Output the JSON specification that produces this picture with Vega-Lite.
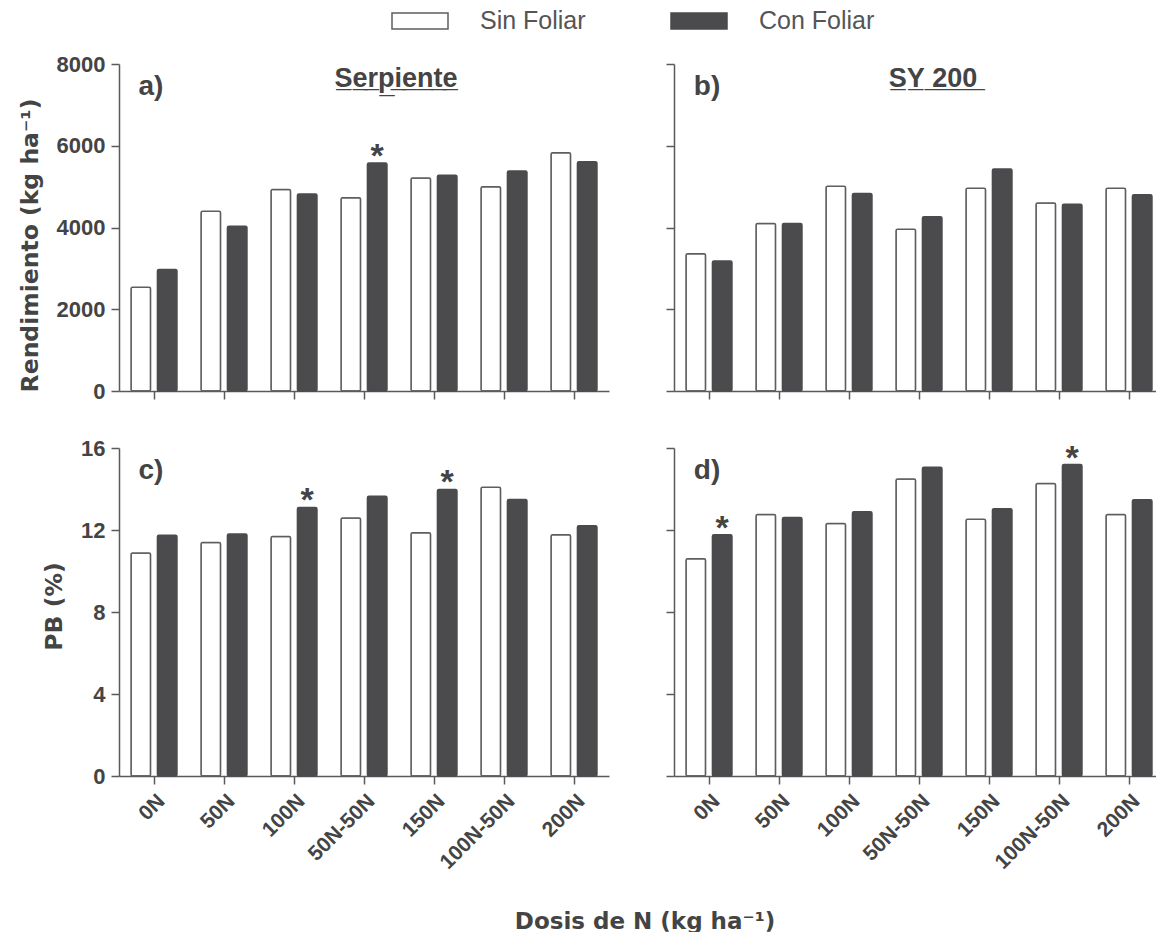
{
  "$schema": "https://vega.github.io/schema/vega-lite/v6.json",
  "padding": {"left": 18, "top": 6, "right": 0, "bottom": 4},
  "bounds": "flush",
  "columns": 2,
  "spacing": {"row": 57, "column": 65},
  "title": {"text": "Dosis de N (kg ha⁻¹)", "orient": "bottom", "anchor": "middle", "dx": 54, "fontSize": 23, "fontWeight": "bold", "font": "DejaVu Sans", "color": "#444", "offset": 38},
  "datasets": {
    "bars": [
      {"panel": "a", "dosis": "0N", "trat": "Sin Foliar", "valor": 2540, "sig": false},
      {"panel": "a", "dosis": "0N", "trat": "Con Foliar", "valor": 2970, "sig": false},
      {"panel": "a", "dosis": "50N", "trat": "Sin Foliar", "valor": 4400, "sig": false},
      {"panel": "a", "dosis": "50N", "trat": "Con Foliar", "valor": 4030, "sig": false},
      {"panel": "a", "dosis": "100N", "trat": "Sin Foliar", "valor": 4930, "sig": false},
      {"panel": "a", "dosis": "100N", "trat": "Con Foliar", "valor": 4820, "sig": false},
      {"panel": "a", "dosis": "50N-50N", "trat": "Sin Foliar", "valor": 4730, "sig": false},
      {"panel": "a", "dosis": "50N-50N", "trat": "Con Foliar", "valor": 5580, "sig": true},
      {"panel": "a", "dosis": "150N", "trat": "Sin Foliar", "valor": 5210, "sig": false},
      {"panel": "a", "dosis": "150N", "trat": "Con Foliar", "valor": 5280, "sig": false},
      {"panel": "a", "dosis": "100N-50N", "trat": "Sin Foliar", "valor": 5000, "sig": false},
      {"panel": "a", "dosis": "100N-50N", "trat": "Con Foliar", "valor": 5380, "sig": false},
      {"panel": "a", "dosis": "200N", "trat": "Sin Foliar", "valor": 5830, "sig": false},
      {"panel": "a", "dosis": "200N", "trat": "Con Foliar", "valor": 5610, "sig": false},
      {"panel": "b", "dosis": "0N", "trat": "Sin Foliar", "valor": 3360, "sig": false},
      {"panel": "b", "dosis": "0N", "trat": "Con Foliar", "valor": 3180, "sig": false},
      {"panel": "b", "dosis": "50N", "trat": "Sin Foliar", "valor": 4100, "sig": false},
      {"panel": "b", "dosis": "50N", "trat": "Con Foliar", "valor": 4100, "sig": false},
      {"panel": "b", "dosis": "100N", "trat": "Sin Foliar", "valor": 5010, "sig": false},
      {"panel": "b", "dosis": "100N", "trat": "Con Foliar", "valor": 4830, "sig": false},
      {"panel": "b", "dosis": "50N-50N", "trat": "Sin Foliar", "valor": 3960, "sig": false},
      {"panel": "b", "dosis": "50N-50N", "trat": "Con Foliar", "valor": 4260, "sig": false},
      {"panel": "b", "dosis": "150N", "trat": "Sin Foliar", "valor": 4960, "sig": false},
      {"panel": "b", "dosis": "150N", "trat": "Con Foliar", "valor": 5430, "sig": false},
      {"panel": "b", "dosis": "100N-50N", "trat": "Sin Foliar", "valor": 4600, "sig": false},
      {"panel": "b", "dosis": "100N-50N", "trat": "Con Foliar", "valor": 4570, "sig": false},
      {"panel": "b", "dosis": "200N", "trat": "Sin Foliar", "valor": 4960, "sig": false},
      {"panel": "b", "dosis": "200N", "trat": "Con Foliar", "valor": 4800, "sig": false},
      {"panel": "c", "dosis": "0N", "trat": "Sin Foliar", "valor": 10.88, "sig": false},
      {"panel": "c", "dosis": "0N", "trat": "Con Foliar", "valor": 11.75, "sig": false},
      {"panel": "c", "dosis": "50N", "trat": "Sin Foliar", "valor": 11.39, "sig": false},
      {"panel": "c", "dosis": "50N", "trat": "Con Foliar", "valor": 11.81, "sig": false},
      {"panel": "c", "dosis": "100N", "trat": "Sin Foliar", "valor": 11.68, "sig": false},
      {"panel": "c", "dosis": "100N", "trat": "Con Foliar", "valor": 13.1, "sig": true},
      {"panel": "c", "dosis": "50N-50N", "trat": "Sin Foliar", "valor": 12.59, "sig": false},
      {"panel": "c", "dosis": "50N-50N", "trat": "Con Foliar", "valor": 13.65, "sig": false},
      {"panel": "c", "dosis": "150N", "trat": "Sin Foliar", "valor": 11.86, "sig": false},
      {"panel": "c", "dosis": "150N", "trat": "Con Foliar", "valor": 13.98, "sig": true},
      {"panel": "c", "dosis": "100N-50N", "trat": "Sin Foliar", "valor": 14.08, "sig": false},
      {"panel": "c", "dosis": "100N-50N", "trat": "Con Foliar", "valor": 13.49, "sig": false},
      {"panel": "c", "dosis": "200N", "trat": "Sin Foliar", "valor": 11.77, "sig": false},
      {"panel": "c", "dosis": "200N", "trat": "Con Foliar", "valor": 12.21, "sig": false},
      {"panel": "d", "dosis": "0N", "trat": "Sin Foliar", "valor": 10.6, "sig": false},
      {"panel": "d", "dosis": "0N", "trat": "Con Foliar", "valor": 11.77, "sig": true},
      {"panel": "d", "dosis": "50N", "trat": "Sin Foliar", "valor": 12.76, "sig": false},
      {"panel": "d", "dosis": "50N", "trat": "Con Foliar", "valor": 12.61, "sig": false},
      {"panel": "d", "dosis": "100N", "trat": "Sin Foliar", "valor": 12.32, "sig": false},
      {"panel": "d", "dosis": "100N", "trat": "Con Foliar", "valor": 12.89, "sig": false},
      {"panel": "d", "dosis": "50N-50N", "trat": "Sin Foliar", "valor": 14.49, "sig": false},
      {"panel": "d", "dosis": "50N-50N", "trat": "Con Foliar", "valor": 15.06, "sig": false},
      {"panel": "d", "dosis": "150N", "trat": "Sin Foliar", "valor": 12.53, "sig": false},
      {"panel": "d", "dosis": "150N", "trat": "Con Foliar", "valor": 13.04, "sig": false},
      {"panel": "d", "dosis": "100N-50N", "trat": "Sin Foliar", "valor": 14.27, "sig": false},
      {"panel": "d", "dosis": "100N-50N", "trat": "Con Foliar", "valor": 15.19, "sig": true},
      {"panel": "d", "dosis": "200N", "trat": "Sin Foliar", "valor": 12.76, "sig": false},
      {"panel": "d", "dosis": "200N", "trat": "Con Foliar", "valor": 13.48, "sig": false}
    ],
    "notes": [
      {"panel": "a", "dosis": "0N", "valor": 7230, "lab": "a)"},
      {"panel": "b", "dosis": "0N", "valor": 7240, "lab": "b)"},
      {"panel": "c", "dosis": "0N", "valor": 14.48, "lab": "c)"},
      {"panel": "d", "dosis": "0N", "valor": 14.5, "lab": "d)"}
    ],
    "heads": [
      {"panel": "a", "dosis": "50N-50N", "valor": 7430, "lab": "S\u0332e\u0332r\u0332p\u0332i\u0332e\u0332n\u0332t\u0332e\u0332"},
      {"panel": "b", "dosis": "50N-50N", "valor": 7430, "lab": "S\u0332Y\u0332 \u03322\u03320\u03320\u0332"}
    ]
  },
  "resolve": {"scale": {"fill": "shared", "stroke": "shared"}},
  "concat": [
    {
      "width": 490, "height": 327,
      "layer": [
        {
          "data": {"name": "bars"},
          "transform": [{"filter": "datum.panel === 'a'"}],
          "mark": {"type": "bar", "strokeWidth": 1.5, "cornerRadius": 1.5},
          "encoding": {
            "x": {"field": "dosis", "type": "nominal", "scale": {"domain": ["0N", "50N", "100N", "50N-50N", "150N", "100N-50N", "200N"], "paddingInner": 0, "paddingOuter": 0}, "axis": {"labels": false, "title": null}},
            "xOffset": {"field": "trat", "type": "nominal", "scale": {"domain": ["Sin Foliar", "Con Foliar"], "paddingInner": 0.26, "paddingOuter": 0.456}},
            "y": {"field": "valor", "type": "quantitative", "scale": {"domain": [0, 8000], "nice": false}, "axis": {"values": [0, 2000, 4000, 6000, 8000], "format": "d", "title": "Rendimiento (kg ha⁻¹)", "titleY": 181}},
            "fill": {"field": "trat", "type": "nominal", "scale": {"domain": ["Sin Foliar", "Con Foliar"], "range": ["#ffffff", "#4b4b4d"]}, "legend": {"title": null}},
            "stroke": {"field": "trat", "type": "nominal", "scale": {"domain": ["Sin Foliar", "Con Foliar"], "range": ["#5e5e5e", "#4b4b4d"]}, "legend": {"title": null}}
          }
        },
        {
          "data": {"name": "bars"},
          "transform": [{"filter": "datum.panel === 'a' && datum.sig"}],
          "mark": {"type": "text", "text": "*", "fontSize": 34, "fontWeight": "bold", "color": "#444", "baseline": "alphabetic", "dy": 4},
          "encoding": {
            "x": {"field": "dosis", "type": "nominal"},
            "xOffset": {"field": "trat", "type": "nominal"},
            "y": {"field": "valor", "type": "quantitative"}
          }
        },
        {
          "data": {"name": "notes"},
          "transform": [{"filter": "datum.panel === 'a'"}],
          "mark": {"type": "text", "fontSize": 28, "fontWeight": "bold", "color": "#444", "baseline": "alphabetic", "dx": -3},
          "encoding": {"x": {"field": "dosis", "type": "nominal"}, "y": {"field": "valor", "type": "quantitative"}, "text": {"field": "lab"}}
        },
        {
          "data": {"name": "heads"},
          "transform": [{"filter": "datum.panel === 'a'"}],
          "mark": {"type": "text", "fontSize": 27, "fontWeight": "bold", "color": "#444", "baseline": "alphabetic", "dx": 32},
          "encoding": {"x": {"field": "dosis", "type": "nominal"}, "y": {"field": "valor", "type": "quantitative"}, "text": {"field": "lab"}}
        }
      ]
    },
    {
      "width": 490, "height": 327,
      "layer": [
        {
          "data": {"name": "bars"},
          "transform": [{"filter": "datum.panel === 'b'"}],
          "mark": {"type": "bar", "strokeWidth": 1.5, "cornerRadius": 1.5},
          "encoding": {
            "x": {"field": "dosis", "type": "nominal", "scale": {"domain": ["0N", "50N", "100N", "50N-50N", "150N", "100N-50N", "200N"], "paddingInner": 0, "paddingOuter": 0}, "axis": {"labels": false, "title": null}},
            "xOffset": {"field": "trat", "type": "nominal", "scale": {"domain": ["Sin Foliar", "Con Foliar"], "paddingInner": 0.26, "paddingOuter": 0.456}},
            "y": {"field": "valor", "type": "quantitative", "scale": {"domain": [0, 8000], "nice": false}, "axis": {"values": [0, 2000, 4000, 6000, 8000], "labels": false, "title": null}},
            "fill": {"field": "trat", "type": "nominal", "legend": {"title": null}},
            "stroke": {"field": "trat", "type": "nominal", "legend": {"title": null}}
          }
        },
        {
          "data": {"name": "notes"},
          "transform": [{"filter": "datum.panel === 'b'"}],
          "mark": {"type": "text", "fontSize": 28, "fontWeight": "bold", "color": "#444", "baseline": "alphabetic", "dx": -2},
          "encoding": {"x": {"field": "dosis", "type": "nominal"}, "y": {"field": "valor", "type": "quantitative"}, "text": {"field": "lab"}}
        },
        {
          "data": {"name": "heads"},
          "transform": [{"filter": "datum.panel === 'b'"}],
          "mark": {"type": "text", "fontSize": 27, "fontWeight": "bold", "color": "#444", "baseline": "alphabetic", "dx": 14},
          "encoding": {"x": {"field": "dosis", "type": "nominal"}, "y": {"field": "valor", "type": "quantitative"}, "text": {"field": "lab"}}
        }
      ]
    },
    {
      "width": 490, "height": 328,
      "layer": [
        {
          "data": {"name": "bars"},
          "transform": [{"filter": "datum.panel === 'c'"}],
          "mark": {"type": "bar", "strokeWidth": 1.5, "cornerRadius": 1.5},
          "encoding": {
            "x": {"field": "dosis", "type": "nominal", "scale": {"domain": ["0N", "50N", "100N", "50N-50N", "150N", "100N-50N", "200N"], "paddingInner": 0, "paddingOuter": 0}, "axis": {"labelAngle": -45, "labelFontSize": 21, "title": null}},
            "xOffset": {"field": "trat", "type": "nominal", "scale": {"domain": ["Sin Foliar", "Con Foliar"], "paddingInner": 0.26, "paddingOuter": 0.456}},
            "y": {"field": "valor", "type": "quantitative", "scale": {"domain": [0, 16], "nice": false}, "axis": {"values": [0, 4, 8, 12, 16], "title": "PB (%)", "titleY": 158}},
            "fill": {"field": "trat", "type": "nominal", "legend": {"title": null}},
            "stroke": {"field": "trat", "type": "nominal", "legend": {"title": null}}
          }
        },
        {
          "data": {"name": "bars"},
          "transform": [{"filter": "datum.panel === 'c' && datum.sig"}],
          "mark": {"type": "text", "text": "*", "fontSize": 34, "fontWeight": "bold", "color": "#444", "baseline": "alphabetic", "dy": 4},
          "encoding": {
            "x": {"field": "dosis", "type": "nominal"},
            "xOffset": {"field": "trat", "type": "nominal"},
            "y": {"field": "valor", "type": "quantitative"}
          }
        },
        {
          "data": {"name": "notes"},
          "transform": [{"filter": "datum.panel === 'c'"}],
          "mark": {"type": "text", "fontSize": 28, "fontWeight": "bold", "color": "#444", "baseline": "alphabetic", "dx": -3},
          "encoding": {"x": {"field": "dosis", "type": "nominal"}, "y": {"field": "valor", "type": "quantitative"}, "text": {"field": "lab"}}
        }
      ]
    },
    {
      "width": 490, "height": 328,
      "layer": [
        {
          "data": {"name": "bars"},
          "transform": [{"filter": "datum.panel === 'd'"}],
          "mark": {"type": "bar", "strokeWidth": 1.5, "cornerRadius": 1.5},
          "encoding": {
            "x": {"field": "dosis", "type": "nominal", "scale": {"domain": ["0N", "50N", "100N", "50N-50N", "150N", "100N-50N", "200N"], "paddingInner": 0, "paddingOuter": 0}, "axis": {"labelAngle": -45, "labelFontSize": 21, "title": null}},
            "xOffset": {"field": "trat", "type": "nominal", "scale": {"domain": ["Sin Foliar", "Con Foliar"], "paddingInner": 0.26, "paddingOuter": 0.456}},
            "y": {"field": "valor", "type": "quantitative", "scale": {"domain": [0, 16], "nice": false}, "axis": {"values": [0, 4, 8, 12, 16], "labels": false, "title": null}},
            "fill": {"field": "trat", "type": "nominal", "legend": {"title": null}},
            "stroke": {"field": "trat", "type": "nominal", "legend": {"title": null}}
          }
        },
        {
          "data": {"name": "bars"},
          "transform": [{"filter": "datum.panel === 'd' && datum.sig"}],
          "mark": {"type": "text", "text": "*", "fontSize": 34, "fontWeight": "bold", "color": "#444", "baseline": "alphabetic", "dy": 4},
          "encoding": {
            "x": {"field": "dosis", "type": "nominal"},
            "xOffset": {"field": "trat", "type": "nominal"},
            "y": {"field": "valor", "type": "quantitative"}
          }
        },
        {
          "data": {"name": "notes"},
          "transform": [{"filter": "datum.panel === 'd'"}],
          "mark": {"type": "text", "fontSize": 28, "fontWeight": "bold", "color": "#444", "baseline": "alphabetic", "dx": -2},
          "encoding": {"x": {"field": "dosis", "type": "nominal"}, "y": {"field": "valor", "type": "quantitative"}, "text": {"field": "lab"}}
        }
      ]
    }
  ],
  "config": {
    "view": {"stroke": null},
    "font": "Liberation Sans",
    "text": {"font": "Liberation Sans"},
    "axis": {
      "domainColor": "#5a5a5a", "domainWidth": 1.5, "tickColor": "#5a5a5a", "tickWidth": 1.5, "tickSize": 8,
      "grid": false, "labelFont": "Liberation Sans", "labelFontWeight": "bold", "labelColor": "#444", "labelFontSize": 22, "labelPadding": 6,
      "titleFont": "DejaVu Sans", "titleFontWeight": "bold", "titleColor": "#444", "titleFontSize": 23.5, "titlePadding": 14
    },
    "legend": {
      "orient": "none", "legendX": 286, "legendY": -58, "direction": "horizontal",
      "symbolType": "M-2,-0.57H2V0.57H-2Z", "symbolSize": 784, "symbolStrokeWidth": 1.5,
      "labelFont": "Liberation Sans", "labelFontSize": 25, "labelColor": "#555", "labelOffset": 45, "columnPadding": 82
    }
  }
}
